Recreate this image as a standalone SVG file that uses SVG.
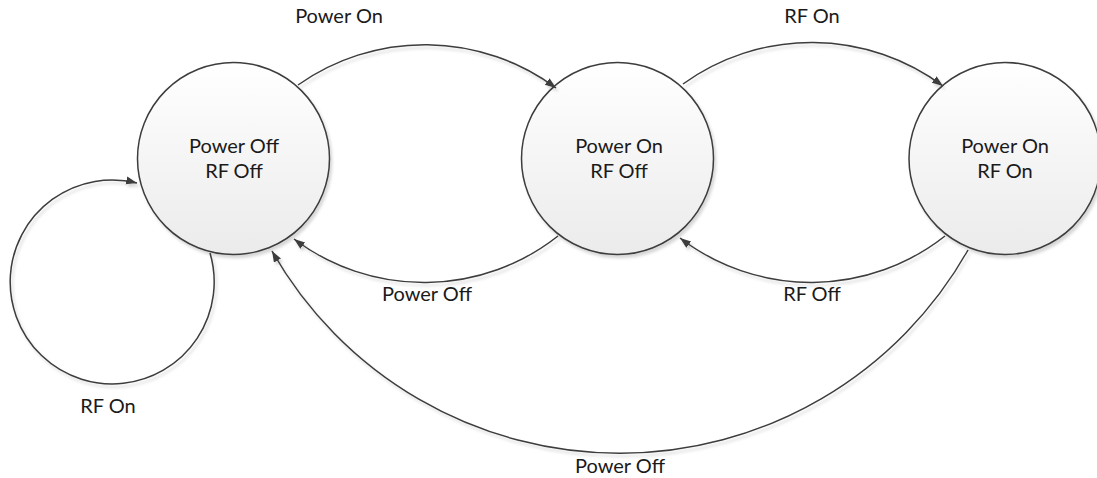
<svg xmlns="http://www.w3.org/2000/svg" width="1097" height="478" viewBox="0 0 1097 478">
<defs>
<linearGradient id="nodeFill" x1="0" y1="0" x2="0" y2="1">
<stop offset="0" stop-color="#ffffff"/>
<stop offset="1" stop-color="#ebebeb"/>
</linearGradient>
<filter id="shadow" x="-20%" y="-20%" width="140%" height="140%">
<feDropShadow dx="2" dy="3" stdDeviation="1.5" flood-color="#000000" flood-opacity="0.16"/>
</filter>
<marker id="arrow" markerUnits="userSpaceOnUse" markerWidth="12" markerHeight="10" refX="11" refY="4" orient="auto">
<path d="M0,0 L11,4 L0,8 Z" fill="#3c3c3c"/>
</marker>
</defs>
<style>
.node { fill: url(#nodeFill); stroke: #3c3c3c; stroke-width: 1.5; filter: url(#shadow); }
.edge { fill: none; stroke: #3c3c3c; stroke-width: 1.5; filter: url(#shadow); marker-end: url(#arrow); }
.label { font-family: Lato, "Liberation Sans", sans-serif; font-size: 20px; fill: #1a1a1a; text-anchor: middle; }
</style>
<g id="n1">
<circle class="node" cx="233.5" cy="158.5" r="96"/>
<text class="label" x="234" y="153">Power Off</text>
<text class="label" x="234" y="178">RF Off</text>
</g>
<g id="n2">
<circle class="node" cx="617.5" cy="158.5" r="96"/>
<text class="label" x="619" y="153">Power On</text>
<text class="label" x="619" y="178">RF Off</text>
</g>
<g id="n3">
<circle class="node" cx="1005" cy="158.5" r="96"/>
<text class="label" x="1005" y="153">Power On</text>
<text class="label" x="1005" y="178">RF On</text>
</g>
<g id="connectors">
<path class="edge" d="M298,85 A220,220 0 0 1 556,88"/>
<path class="edge" d="M683,84 A220,220 0 0 1 943,86"/>
<path class="edge" d="M558,236 A216,216 0 0 1 294,239"/>
<path class="edge" d="M945,236 A216,216 0 0 1 680,238"/>
<path class="edge" d="M968,250 A400,400 0 0 1 272,251"/>
<path class="edge" d="M210,253 A102,102 0 1 1 137,183"/>
<text class="label" x="339" y="23">Power On</text>
<text class="label" x="812" y="23">RF On</text>
<text class="label" x="427" y="301">Power Off</text>
<text class="label" x="812" y="301">RF Off</text>
<text class="label" x="620" y="473">Power Off</text>
<text class="label" x="108" y="413">RF On</text>
</g>
</svg>
